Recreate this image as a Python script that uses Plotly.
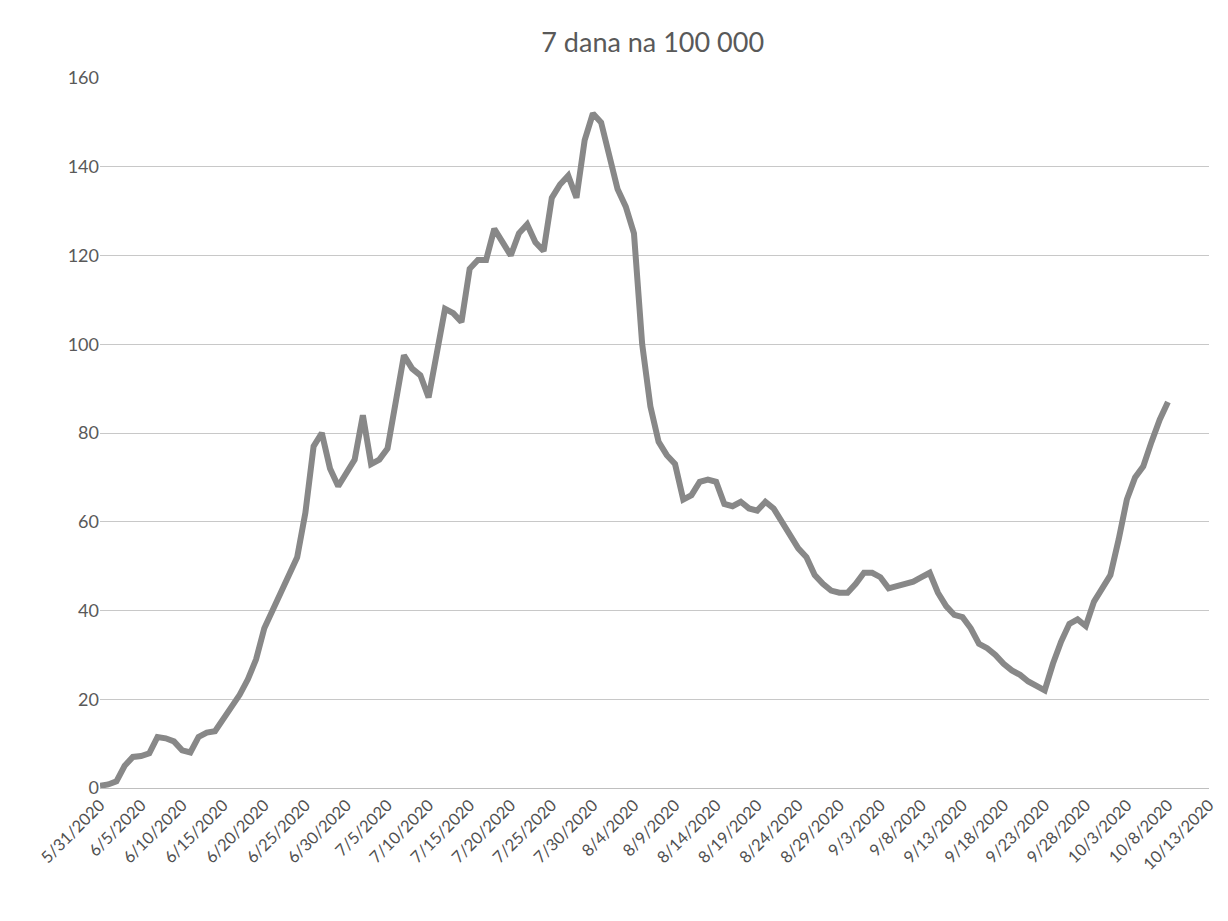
import pandas as pd
import plotly.graph_objects as go

title_text = "7 dana na 100 000"

start_date = "2020-05-31"
values = [
    0.5, 0.8, 1.5, 5, 7, 7.2, 7.8, 11.5, 11.2, 10.5,
    8.5, 8, 11.5, 12.5, 12.8, 15.5, 18, 21, 24.5, 29,
    36, 40, 44, 48, 52, 62, 77, 80, 72, 68,
    71, 74, 84, 73, 74, 76.5, 87, 97.5, 94.5, 93,
    88, 99, 108, 107, 105, 117, 119, 119, 126, 123,
    120, 125, 127, 123, 121, 133, 136, 138, 133, 146,
    152, 150, 142, 135, 131, 125, 100, 86, 78, 75,
    73, 65, 66, 69, 69.5, 69, 64, 63.5, 64.5, 63,
    62.5, 64.5, 63, 60, 57, 54, 52, 48, 46, 44.5,
    44, 44, 46, 48.5, 48.5, 47.5, 45, 45.5, 46, 46.5,
    47.5, 48.5, 44, 41, 39, 38.5, 36, 32.5, 31.5, 30,
    28, 26.5, 25.5, 24, 23, 22, 28, 33, 37, 38,
    36.5, 42, 45, 48, 56, 65, 70, 72.5, 78, 83,
    87,
]
dates = pd.date_range(start_date, periods=len(values), freq="D")

tick_dates = pd.date_range("2020-05-31", "2020-10-13", freq="5D")
tick_labels = [
    "5/31/2020", "6/5/2020", "6/10/2020", "6/15/2020", "6/20/2020",
    "6/25/2020", "6/30/2020", "7/5/2020", "7/10/2020", "7/15/2020",
    "7/20/2020", "7/25/2020", "7/30/2020", "8/4/2020", "8/9/2020",
    "8/14/2020", "8/19/2020", "8/24/2020", "8/29/2020", "9/3/2020",
    "9/8/2020", "9/13/2020", "9/18/2020", "9/23/2020", "9/28/2020",
    "10/3/2020", "10/8/2020", "10/13/2020",
]
y_ticks = [0, 20, 40, 60, 80, 100, 120, 140, 160]

fig = go.Figure()
fig.add_trace(go.Scatter(
    x=dates, y=values, mode="lines",
    line=dict(color="#888888", width=6, shape="linear"),
    hoverinfo="x+y", showlegend=False,
))

fig.update_layout(
    width=1228, height=921,
    paper_bgcolor="white", plot_bgcolor="white",
    margin=dict(l=92, r=27, t=70, b=141),
    title=dict(text=title_text, x=0.525, xanchor="center", y=0.963, yanchor="middle",
               font=dict(family="Lato, Open Sans, sans-serif", size=27, color="#595959")),
    font=dict(family="Lato, Open Sans, sans-serif", color="#595959"),
)
fig.update_xaxes(
    type="date",
    range=[tick_dates[0], tick_dates[-1]],
    tickmode="array", tickvals=list(tick_dates), ticktext=tick_labels,
    tickangle=-45, tickfont=dict(size=16.5, color="#505050"),
    showgrid=False, showline=True, linecolor="#bfbfbf", linewidth=1,
    ticks="", zeroline=False,
)
fig.update_yaxes(
    range=[0, 160], tickmode="array", tickvals=y_ticks,
    tickfont=dict(size=18, color="#595959"),
    showgrid=True, gridcolor="#c8c8c8", gridwidth=1,
    zeroline=False, showline=False, ticks="",
)

fig.write_html("out.html")
